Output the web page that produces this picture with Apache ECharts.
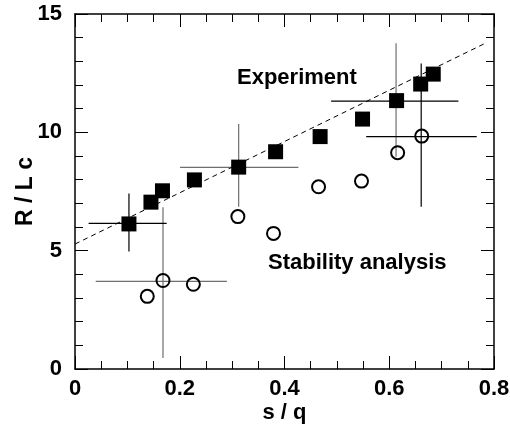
<!DOCTYPE html>
<html>
<head>
<meta charset="utf-8">
<script src="https://cdn.jsdelivr.net/npm/echarts@6/dist/echarts.min.js"></script>
<style>html,body{margin:0;padding:0;background:#fff}#c{width:510px;height:431px}</style>
</head>
<body>
<div id="c"></div>
<script>
// Experiment (filled squares)
var expX = [0.103, 0.145, 0.167, 0.228, 0.3125, 0.383, 0.468, 0.549, 0.614, 0.660, 0.684];
var expY = [6.13, 7.05, 7.53, 7.99, 8.53, 9.18, 9.82, 10.56, 11.34, 12.04, 12.46];
// Stability analysis (open circles)
var stabX = [0.138, 0.168, 0.226, 0.311, 0.379, 0.465, 0.547, 0.616, 0.662];
var stabY = [3.07, 3.74, 3.58, 6.44, 5.73, 7.70, 7.94, 9.14, 9.84];
// Dashed fit line end points
var fitX = [0, 0.783];
var fitY = [5.28, 13.76];
// Error bars: horizontal [xLow, xHigh, y], vertical [x, yLow, yHigh]
var blackHBars = [[0.026, 0.175, 6.15], [0.489, 0.732, 11.32], [0.556, 0.767, 9.82]];
var blackVBars = [[0.103, 4.96, 7.42], [0.661, 6.86, 12.91]];
var grayHBars = [[0.0395, 0.290, 3.70], [0.2006, 0.4265, 8.52]];
var grayVBars = [[0.168, 0.46, 6.83], [0.3125, 6.86, 10.35], [0.613, 8.97, 13.76]];
// Ticks
var xMin = 0, xMax = 0.8, xStep = 0.2;
var yMin = 0, yMax = 15, yStep = 5;

var FONT = 'Liberation Sans';
var chart = echarts.init(document.getElementById('c'), null, {renderer: 'canvas'});

function zip(a, b) { return a.map(function (v, i) { return [v, b[i]]; }); }

function hBarSeries(data, color) {
  return {
    type: 'custom', data: data, z: 1, silent: true,
    encode: {x: [0, 1], y: 2},
    renderItem: function (params, api) {
      var a = api.coord([api.value(0), api.value(2)]);
      var b = api.coord([api.value(1), api.value(2)]);
      return {type: 'line', shape: {x1: a[0], y1: a[1], x2: b[0], y2: b[1]},
        style: {stroke: color, lineWidth: 1.2}};
    }
  };
}
function vBarSeries(data, color) {
  return {
    type: 'custom', data: data, z: 1, silent: true,
    encode: {x: 0, y: [1, 2]},
    renderItem: function (params, api) {
      var a = api.coord([api.value(0), api.value(1)]);
      var b = api.coord([api.value(0), api.value(2)]);
      return {type: 'line', shape: {x1: a[0], y1: a[1], x2: b[0], y2: b[1]},
        style: {stroke: color, lineWidth: 1.2}};
    }
  };
}

var tickLabel = {fontFamily: FONT, fontWeight: 'bold', fontSize: 22, color: '#000'};
function axisBase(extra) {
  var o = {
    type: 'value',
    axisLine: {show: true, onZero: false, lineStyle: {color: '#000', width: 1.5}},
    axisTick: {show: true, inside: true, length: 13, lineStyle: {color: '#000', width: 1}},
    splitLine: {show: false}
  };
  for (var k in extra) o[k] = extra[k];
  return o;
}

chart.setOption({
  animation: false,
  backgroundColor: '#fff',
  grid: {left: 75, right: 16, top: 14, bottom: 62, containLabel: false, outerBoundsMode: 'none'},
  xAxis: [
    axisBase({position: 'bottom', min: xMin, max: xMax, interval: xStep,
      minorTick: {show: true, splitNumber: 4, length: 8, lineStyle: {color: '#000', width: 1}},
      axisLabel: Object.assign({margin: 9, formatter: function (v) { return v === 0 ? '0' : String(+v.toFixed(1)); }}, tickLabel),
      name: 's / q', nameLocation: 'middle', nameGap: 33, nameMoveOverlap: false,
      nameTextStyle: {fontFamily: FONT, fontWeight: 'bold', fontSize: 22, color: '#000'}}),
    axisBase({position: 'top', min: xMin, max: xMax, interval: xStep,
      minorTick: {show: true, splitNumber: 4, length: 8, lineStyle: {color: '#000', width: 1}},
      axisLabel: {show: false}})
  ],
  yAxis: [
    axisBase({position: 'left', min: yMin, max: yMax, interval: yStep,
      minorTick: {show: true, splitNumber: 5, length: 8, lineStyle: {color: '#000', width: 1}},
      axisLabel: Object.assign({margin: 13}, tickLabel),
      name: 'R / L c', nameLocation: 'middle', nameGap: 38, nameRotate: 90, nameMoveOverlap: false,
      nameTextStyle: {fontFamily: FONT, fontWeight: 'bold', fontSize: 23, color: '#000'}}),
    axisBase({position: 'right', min: yMin, max: yMax, interval: yStep,
      minorTick: {show: true, splitNumber: 5, length: 8, lineStyle: {color: '#000', width: 1}},
      axisLabel: {show: false}})
  ],
  series: [
    {type: 'line', data: zip(fitX, fitY), symbol: 'none', z: 2, silent: true,
      lineStyle: {color: '#000', width: 1, type: [5, 4]}},
    hBarSeries(grayHBars, '#6e6e6e'),
    vBarSeries(grayVBars, '#6e6e6e'),
    hBarSeries(blackHBars, '#000'),
    vBarSeries(blackVBars, '#000'),
    {type: 'scatter', name: 'Experiment', data: zip(expX, expY), symbol: 'rect', symbolSize: 15, z: 5,
      itemStyle: {color: '#000', opacity: 1}},
    {type: 'scatter', name: 'Stability analysis', data: zip(stabX, stabY), symbol: 'circle', symbolSize: 13, z: 5,
      itemStyle: {color: 'rgba(0,0,0,0)', borderColor: '#000', borderWidth: 2, opacity: 1}}
  ],
  graphic: [
    {type: 'text', left: 237, top: 67, style: {text: 'Experiment', font: 'bold 22px "' + FONT + '"', fill: '#000'}},
    {type: 'text', left: 268, top: 252, style: {text: 'Stability analysis', font: 'bold 22px "' + FONT + '"', fill: '#000'}}
  ]
});
</script>
</body>
</html>
